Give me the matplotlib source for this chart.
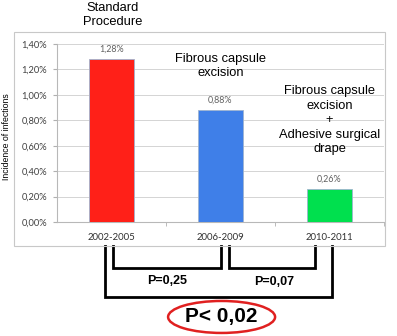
import numpy as np
import matplotlib
matplotlib.use("Agg")
import matplotlib.pyplot as plt
from matplotlib.patches import Rectangle, Ellipse

# data
periods = ["2002-2005", "2006-2009", "2010-2011"]
incidence = [1.28, 0.88, 0.26]   # percent
value_labels = ["1,28%", "0,88%", "0,26%"]
bar_colors = ["#ff2018", "#3f7fe8", "#00e04e"]
yticks = [0.0, 0.2, 0.4, 0.6, 0.8, 1.0, 1.2, 1.4]
ytick_labels = ["0,00%", "0,20%", "0,40%", "0,60%", "0,80%", "1,00%", "1,20%", "1,40%"]
group_labels = ["Standard\nProcedure",
                "Fibrous capsule\nexcision",
                "Fibrous capsule\nexcision\n+\nAdhesive surgical\ndrape"]
p_pairs = ["P=0,25", "P=0,07"]
p_all = "P< 0,02"

W, H = 397, 336
fig = plt.figure(figsize=(W / 100, H / 100), dpi=100)

# outer chart frame
fig.patches.append(Rectangle((14 / W, 1 - 246 / H), 371 / W, 214 / H,
                             transform=fig.transFigure, fill=False,
                             edgecolor="#c8c8c8", lw=0.8))

ax = fig.add_axes([57 / W, 1 - 222 / H, 327 / W, 178 / H])
x = np.arange(len(periods))
ax.bar(x, incidence, width=0.42, color=bar_colors, edgecolor="#9fb4d0",
       linewidth=0.6, zorder=3)
ax.set_xlim(-0.5, 2.5)
ax.set_ylim(0, 1.4)
ax.set_yticks(yticks)
ax.set_yticklabels(ytick_labels, fontsize=6.7, color="#404040", family="Lato")
ax.set_xticks(x)
ax.set_xticklabels(periods, fontsize=6.9, color="#303030", family="Lato")
ax.set_xticks([0.5, 1.5, 2.5], minor=True)
ax.tick_params(axis="x", which="major", length=0, pad=8)
ax.tick_params(axis="x", which="minor", length=3, color="#b0b0b0", direction="out")
ax.tick_params(axis="y", length=3, color="#b0b0b0", pad=4)
ax.grid(axis="y", color="#d4d4d4", lw=0.7, zorder=0)
for s in ["top", "right"]:
    ax.spines[s].set_visible(False)
for s in ["left", "bottom"]:
    ax.spines[s].set_color("#b8b8b8")
    ax.spines[s].set_linewidth(0.8)

for xi, v, lab in zip(x, incidence, value_labels):
    ax.text(xi, v + 0.04, lab, ha="center", va="bottom", fontsize=6.4,
            color="#606060", family="Lato")

fig.text(7 / W, 1 - 137 / H, "Incidence of infections", rotation=90,
         ha="center", va="center", fontsize=6.3, family="Liberation Sans")

# pixel -> data helpers for the annotations below the axis
ppx = 109.0   # pixels per category
ppy = 127.2   # pixels per percent
def dy(py):
    return (222 - py) / ppy

# group descriptions
fig.text(113 / W, 1 - 15 / H, group_labels[0], ha="center", va="center",
         fontsize=9.3, family="Liberation Sans", linespacing=1.15)
ax.text(1.0, dy(66), group_labels[1], ha="center", va="center",
        fontsize=9.3, family="Liberation Sans", linespacing=1.15)
ax.text(2.0, dy(120), group_labels[2], ha="center", va="center",
        fontsize=9.3, family="Liberation Sans", linespacing=1.28)

# significance brackets
def bracket(x0, x1, ybot):
    ax.plot([x0, x0, x1, x1], [dy(246), ybot, ybot, dy(246)], color="black",
            lw=2.0, solid_joinstyle="miter", clip_on=False, zorder=5)

bracket(x[0] + 0.01, x[1], dy(268))
bracket(x[1] + 0.08, x[2] - 0.13, dy(268))
bracket(x[0] - 0.06, x[2] + 0.02, dy(297))

ax.text((x[0] + x[1]) / 2 + 0.01, dy(281), p_pairs[0], ha="center", va="center",
        fontsize=9, fontweight="bold", family="Liberation Sans", clip_on=False)
ax.text((x[1] + x[2]) / 2 - 0.01, dy(282), p_pairs[1], ha="center", va="center",
        fontsize=9, fontweight="bold", family="Liberation Sans", clip_on=False)
ax.text(1.01, dy(317), p_all, ha="center", va="center",
        fontsize=15, fontweight="bold", family="Liberation Sans", clip_on=False)
ax.add_patch(Ellipse((1.01, dy(317)), 107 / ppx, 32 / ppy, fill=False,
                     edgecolor="#e02020", lw=1.8, clip_on=False))

fig.savefig("out.png", dpi=100)
